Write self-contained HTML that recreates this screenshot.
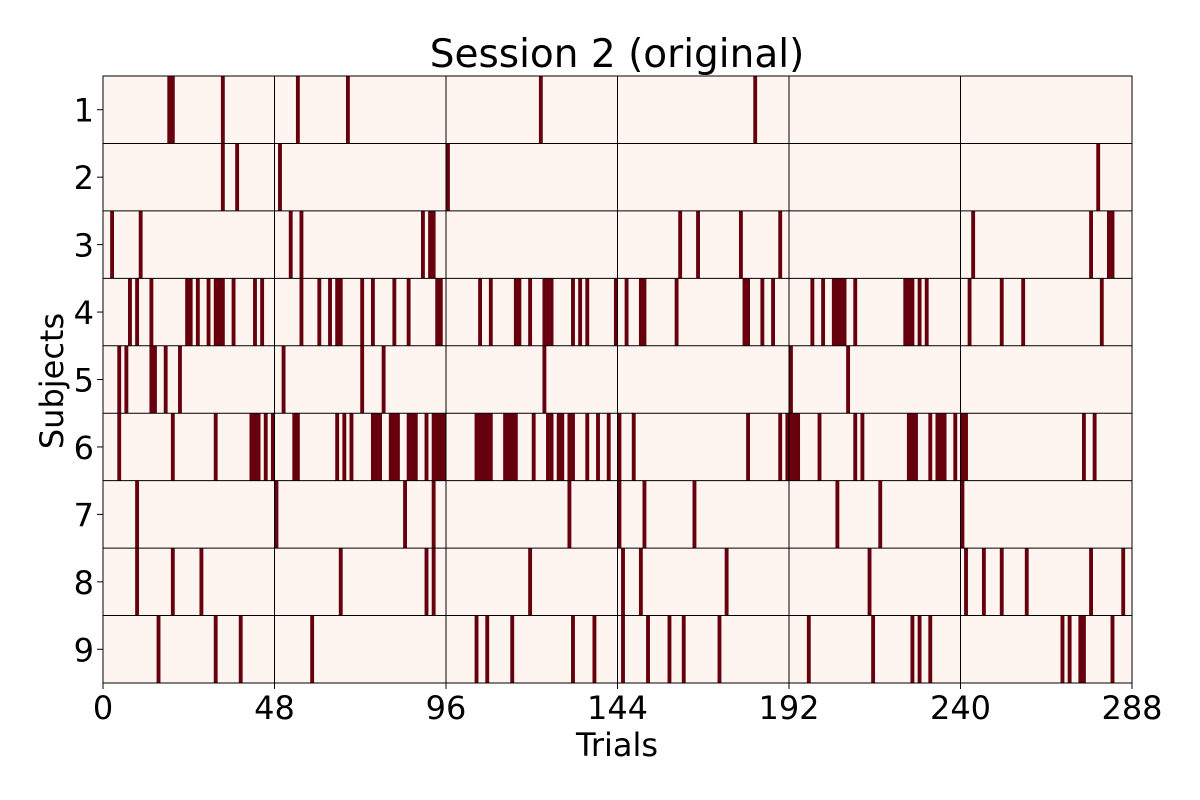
<!DOCTYPE html>
<html><head><meta charset="utf-8"><style>
body{margin:0;background:#fff;}
svg{display:block;font-family:"DejaVu Sans","Liberation Sans",sans-serif;}
</style></head><body>
<svg id="chart" width="1200" height="800" viewBox="0 0 1200 800">
<text x="617" y="67" font-size="39" text-anchor="middle">Session 2 (original)</text>
<g id="plot"></g>
<text x="617" y="756" font-size="32" text-anchor="middle">Trials</text>
<text x="63" y="381" font-size="32" text-anchor="middle" transform="rotate(-90 63 381)">Subjects</text>
</svg>
<script>
const subjects = ["1","2","3","4","5","6","7","8","9"];
const xTicks = [0,48,96,144,192,240,288];
const nTrials = 288;
const row1 = [18,19,33,54,68,122,182];
const row2 = [33,37,49,96,278];
const row3 = [2,10,52,55,89,91,92,161,166,178,189,243,276,281,282];
const row4 = [7,9,13,23,24,26,29,31,32,33,36,42,44,55,60,63,65,66,72,75,81,85,93,94,105,108,115,116,119,123,124,125,131,133,135,143,146,150,151,160,179,180,184,187,198,201,204,205,206,207,210,224,225,226,228,230,242,251,257,279];
const row5 = [4,6,13,14,17,21,50,72,78,123,192,208];
const row6 = [4,19,31,41,42,43,45,47,53,54,65,67,69,75,76,77,80,81,82,85,86,87,90,92,93,94,95,104,105,106,107,108,112,113,114,115,120,124,125,127,128,130,131,135,138,141,144,148,180,189,191,192,193,194,200,210,212,225,226,227,231,233,234,235,238,240,241,274,277];
const row7 = [9,48,84,92,130,144,151,165,205,217,240];
const row8 = [9,19,27,66,90,92,119,145,150,174,214,241,246,251,258,276,285];
const row9 = [15,31,38,58,104,107,114,131,137,145,152,158,162,172,197,215,226,228,231,268,270,273,274,282];
const rows = [row1,row2,row3,row4,row5,row6,row7,row8,row9];

const NS="http://www.w3.org/2000/svg";
const L=103,R=1132,T=76,B=683;
const xs=t=>L+(R-L)*t/nTrials;
const rowH=(B-T)/subjects.length;
const ys=i=>T+rowH*i;
const g=document.getElementById('plot');
function mk(tag,attrs){const e=document.createElementNS(NS,tag);for(const k in attrs)e.setAttribute(k,attrs[k]);g.appendChild(e);return e;}

const bg=mk('rect',{x:L,y:T,width:R-L,height:B-T,fill:'#fff5f0'});



rows.forEach((r,i)=>{
  r.forEach(t=>{
    const c=mk('rect',{x:xs(t),y:ys(i),width:xs(t+1)-xs(t)+0.3,height:rowH,fill:'#67000d'});
    
    
  });
});
xTicks.forEach(v=>{
  const l=mk('line',{x1:xs(v),x2:xs(v),y1:T,y2:B,stroke:'#000','stroke-width':1});
  
  
  const tk=mk('line',{x1:xs(v),x2:xs(v),y1:B,y2:B+6,stroke:'#000','stroke-width':1});
  
  
  const tx=mk('text',{x:xs(v),y:B+36,'font-size':32,'text-anchor':'middle'});
  tx.textContent=v;
  
  
});
for(let i=1;i<subjects.length;i++){
  const l=mk('line',{x1:L,x2:R,y1:ys(i),y2:ys(i),stroke:'#000','stroke-width':1});
  
  
}
subjects.forEach((s,i)=>{
  const cy=ys(i)+rowH/2;
  const tk=mk('line',{x1:L-6,x2:L,y1:cy,y2:cy,stroke:'#000','stroke-width':1});
  
  
  const tx=mk('text',{x:L-9,y:cy+12,'font-size':32,'text-anchor':'end'});
  tx.textContent=s;
  
  
});
const fr=mk('rect',{x:L,y:T,width:R-L,height:B-T,fill:'none',stroke:'#000','stroke-width':1});


</script>
</body></html>
